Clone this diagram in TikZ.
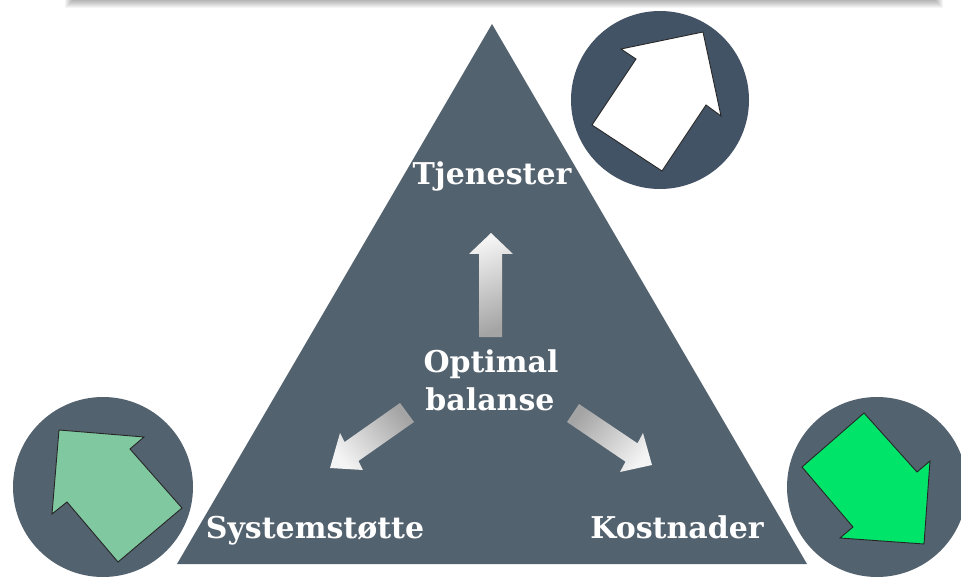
\documentclass[tikz,border=0pt]{standalone}
\usepackage{fontspec}
\newfontfamily\lblfont{DejaVu Serif}
\definecolor{tri}{HTML}{53626F}
\definecolor{topcirc}{HTML}{435366}
\definecolor{botcirc}{HTML}{53626F}
\definecolor{mint}{HTML}{80C8A0}
\definecolor{lime}{HTML}{00E46A}
\definecolor{glight}{HTML}{F4F4F4}
\definecolor{gdark}{HTML}{A4A4A4}
\tikzset{
  lbl/.style={text=white, font=\lblfont\bfseries\fontsize{30}{33}\selectfont, inner sep=0pt, anchor=base},
  bigarrow/.style={draw=black!85, line width=0.9pt, line join=miter},
  grayarrow/.style={top color=glight, bottom color=gdark, draw=none},
}
\begin{document}
\begin{tikzpicture}[x=1pt,y=-1pt]
\useasboundingbox (0,0) rectangle (961,577);
\clip (0,0) rectangle (961,577);
\fill[white] (0,0) rectangle (961,577);
% top banner shadow
\foreach \k in {0,...,7}{
  \fill[black, opacity=0.04] (72-\k,-10) rectangle (936+\k, 1+\k);
}
% triangle
\fill[tri] (492,24) -- (807,564) -- (177,564) -- cycle;
% circles
\fill[topcirc] (660,100) circle[radius=89];
\fill[botcirc] (103,487) circle[radius=90];
\fill[botcirc] (877,487) circle[radius=90];
% big arrows
\draw[bigarrow, fill=white] (703,32) -- (721,116) -- (706,105) -- (662,171) -- (592,125) -- (636,59) -- (621,49) -- cycle;
\draw[bigarrow, fill=mint] (59,430) -- (144,437) -- (130,449) -- (182,508) -- (118,562) -- (67,502) -- (52,514) -- cycle;
\draw[bigarrow, fill=lime] (924,544) -- (840,538) -- (853,527) -- (802,467) -- (864,413) -- (917,472) -- (930,461) -- cycle;
% inner gradient arrows
\shade[grayarrow, shading angle=20] (491,233) -- (513,254) -- (502,254) -- (502,337) -- (479,337) -- (479,254) -- (469,254) -- cycle;
\shade[top color=gdark, bottom color=glight, shading angle=-50] (400,403) -- (344.6,442) -- (340,433) -- (330,468) -- (363,470) -- (358.4,461) -- (414,422) -- cycle;
\shade[top color=gdark, bottom color=glight, shading angle=50] (579,404) -- (637.5,443.3) -- (643,433) -- (652,465) -- (620,472) -- (625.5,461.7) -- (567,422) -- cycle;
% labels
\node[lbl] (tjen) at (492,185) {Tjenester};
\node[lbl] (opt) at (491,372) {Optimal};
\node[lbl] (bal) at (490,410) {balanse};
\node[lbl] (sys) at (315,538) {Systemstøtte};
\node[lbl] (kost) at (677,538) {Kostnader};
\end{tikzpicture}
\end{document}
